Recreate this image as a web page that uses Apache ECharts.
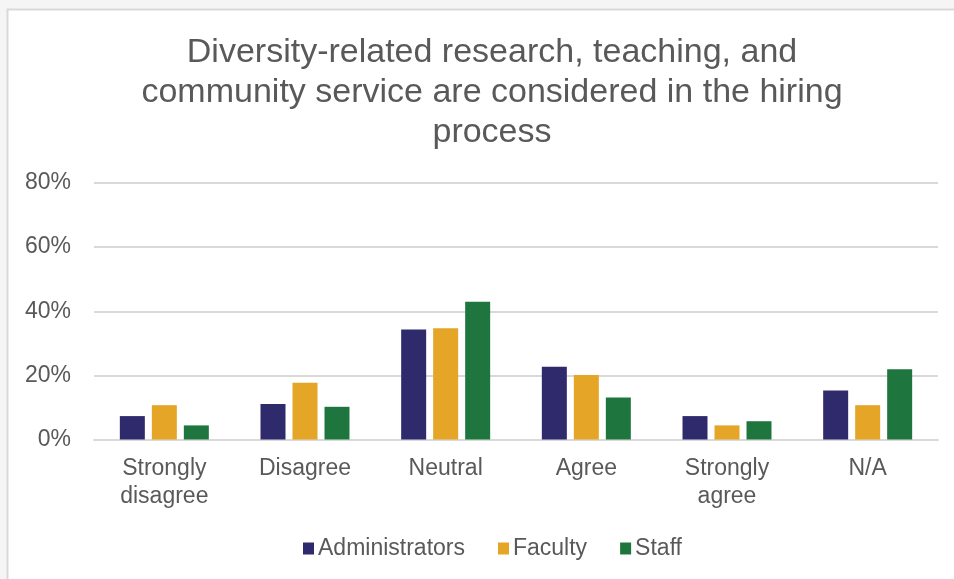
<!DOCTYPE html>
<html>
<head>
<meta charset="utf-8">
<script src="https://cdn.jsdelivr.net/npm/echarts@6/dist/echarts.min.js"></script>
<style>
  html, body { margin: 0; padding: 0; background: #f5f5f5; }
  #main { width: 954px; height: 579px; }
</style>
</head>
<body>
<div id="main"></div>
<script>
// survey answers, share of respondents (%)
const categories = ['Strongly\ndisagree', 'Disagree', 'Neutral', 'Agree', 'Strongly\nagree', 'N/A']
const administrators = [7.3, 11.1, 34.3, 22.7, 7.3, 15.3]
const faculty = [10.7, 17.7, 34.7, 20.1, 4.4, 10.7]
const staff = [4.4, 10.2, 43.0, 13.1, 5.7, 21.9]
const yTicks = [0, 20, 40, 60, 80]

const FONT = '"Liberation Sans", Arial, sans-serif'
const TXT = '#595959'

const chart = echarts.init(document.getElementById('main'))

const barSeries = (name, data, color) => ({
    name: name,
    type: 'bar',
    data: data,
    barWidth: 25,
    barGap: '28%',
    itemStyle: { color: color },
})

const option = {
    backgroundColor: '#f5f5f5',
    animation: false,
    graphic: [{
        type: 'rect',
        z: -10,
        shape: { x: 7.5, y: 9.5, width: 960, height: 600 },
        style: { fill: '#ffffff', stroke: '#d9d9d9', lineWidth: 2 },
    }],
    title: {
        text: 'Diversity-related research, teaching, and\ncommunity service are considered in the hiring\nprocess',
        left: 487,
        textAlign: 'center',
        top: 28,
        textStyle: {
            fontFamily: FONT,
            fontSize: 34,
            fontWeight: 'normal',
            color: TXT,
            lineHeight: 40,
        },
    },
    legend: {
        top: 532,
        left: 298,
        itemWidth: 11,
        itemHeight: 12,
        itemGap: 33,
        icon: 'rect',
        textStyle: { fontFamily: FONT, fontSize: 23, color: TXT, padding: [0, 0, 0, -1] },
        data: ['Administrators', 'Faculty', 'Staff'],
    },
    grid: { left: 94, right: 16, top: 183, bottom: 139.5, containLabel: false },
    xAxis: {
        type: 'category',
        data: categories,
        axisTick: { show: false },
        axisLine: { lineStyle: { color: '#d9d9d9', width: 2 } },
        axisLabel: {
            fontFamily: FONT,
            fontSize: 23,
            color: TXT,
            lineHeight: 28,
            margin: 15,
            interval: 0,
        },
    },
    yAxis: {
        type: 'value',
        min: yTicks[0],
        max: yTicks[yTicks.length - 1],
        interval: 20,
        axisLine: { show: false },
        axisTick: { show: false },
        splitLine: { lineStyle: { color: '#d9d9d9', width: 2 } },
        axisLabel: {
            fontFamily: FONT,
            fontSize: 23,
            color: TXT,
            margin: 23,
            formatter: '{value}%',
        },
    },
    series: [
        barSeries('Administrators', administrators, '#2e2a6b'),
        barSeries('Faculty', faculty, '#e5a526'),
        barSeries('Staff', staff, '#1e763e'),
    ],
}
chart.setOption(option)
</script>
</body>
</html>
